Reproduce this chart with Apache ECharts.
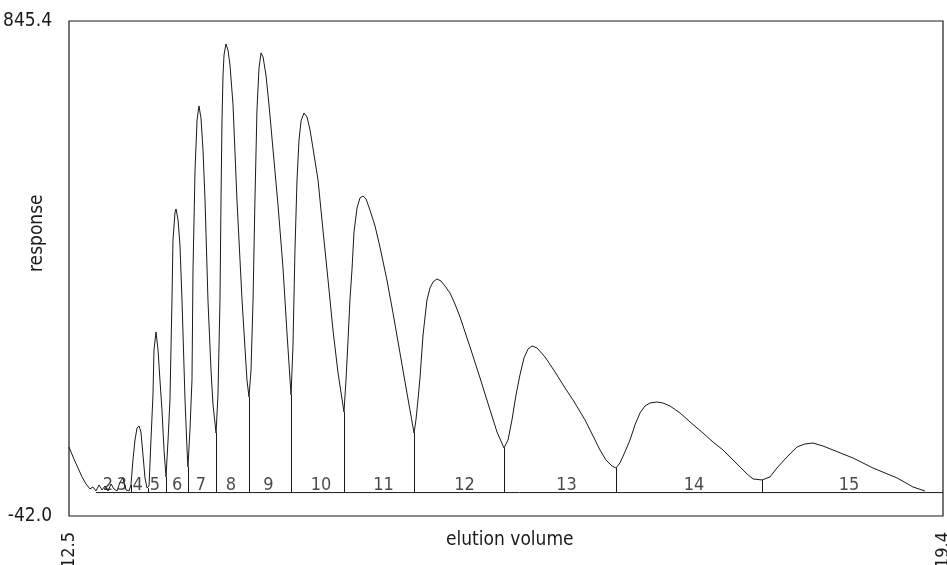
<!DOCTYPE html>
<html>
<head>
<meta charset="utf-8">
<script src="https://cdn.jsdelivr.net/npm/echarts@6/dist/echarts.min.js"></script>
<style>
  html, body { margin: 0; padding: 0; background: #fff; }
  #chart { width: 947px; height: 565px; }
</style>
</head>
<body>
<div id="chart"></div>
<script>
// Elution trace: volume (x) and detector response (y)
const volume = [
  12.500,12.516,12.539,12.571,12.603,12.634,12.666,12.689,12.713,12.737,12.761,12.784,12.808,12.832,12.855,12.879,12.903,12.926,12.950,12.974,12.989,
  13.005,13.021,13.037,13.053,13.068,13.084,13.100,13.116,13.132,
  13.147,13.163,13.171,13.187,13.203,13.218,13.234,13.250,13.266,
  13.282,13.297,13.313,13.321,13.337,13.345,13.361,13.376,13.392,13.416,13.432,13.439,
  13.455,13.471,13.479,13.495,13.511,13.526,13.542,13.558,13.574,13.597,13.621,13.637,13.661,
  13.676,13.692,13.700,13.708,13.716,13.724,13.739,13.755,13.771,13.795,13.826,13.866,13.905,13.921,
  13.937,13.953,13.968,13.984,14.000,14.016,14.032,14.055,14.079,14.111,14.150,14.189,14.221,14.253,
  14.268,14.284,14.300,14.316,14.332,14.355,14.379,14.403,14.426,14.466,14.505,14.545,14.584,14.624,14.671,
  14.687,14.703,14.718,14.734,14.750,14.774,14.797,14.821,14.845,14.876,14.916,14.955,15.010,15.058,15.113,15.168,15.224,
  15.239,15.255,15.271,15.295,15.326,15.350,15.374,15.405,15.437,15.468,15.508,15.547,15.587,15.666,15.745,15.824,15.879,15.934,
  15.966,15.997,16.029,16.060,16.092,16.124,16.155,16.195,16.258,16.337,16.416,16.479,16.574,16.653,16.692,16.739,16.787,16.818,
  16.850,16.889,16.929,16.968,17.008,17.047,17.087,17.142,17.189,17.245,17.324,17.403,17.505,17.584,17.663,17.742,17.797,17.853,17.900,17.971,
  18.034,18.089,18.168,18.247,18.310,18.373,18.452,18.531,18.689,18.847,19.037,19.163,19.258
];
const response = [
  81.7,72.8,60.2,44.1,28.0,15.4,6.5,10.0,2.9,13.6,4.7,11.8,2.9,15.4,6.5,2.9,19.0,26.2,4.7,2.9,13.6,
  58.4,94.3,115.8,119.4,108.6,67.4,26.2,8.2,11.8,
  94.3,175.0,255.6,287.9,255.6,201.9,148.1,76.4,28.0,
  94.3,166.0,345.3,452.8,503.0,508.4,488.7,443.9,345.3,166.0,76.4,45.9,
  112.2,201.9,399.1,578.3,668.0,693.1,671.5,614.2,524.5,345.3,219.8,157.0,106.8,
  175.0,345.3,524.5,668.0,748.6,784.5,804.2,793.5,766.6,694.9,524.5,345.3,201.9,171.4,
  219.8,345.3,524.5,685.9,761.2,788.1,780.9,748.6,694.9,614.2,515.6,404.4,286.1,175.0,
  261.0,434.9,560.4,632.1,666.2,680.5,673.3,650.0,617.8,560.4,470.8,381.1,291.5,214.4,144.5,
  201.9,273.6,345.3,399.1,467.2,510.2,528.1,531.7,526.3,506.6,477.9,440.3,381.1,322.0,250.3,178.6,106.8,
  130.2,166.0,205.4,282.5,345.3,366.8,377.5,382.9,379.3,370.4,357.8,338.1,314.8,261.0,205.4,148.1,108.6,80.0,
  94.3,130.2,175.0,210.8,241.3,257.4,262.8,259.2,243.1,216.2,187.5,166.0,130.2,94.3,76.4,58.4,47.7,44.1,
  53.1,72.8,94.3,121.2,142.7,155.2,160.6,162.4,160.6,155.2,142.7,126.6,106.8,90.7,76.4,58.4,45.9,33.3,24.4,22.6,
  28.0,44.1,63.8,81.7,87.1,88.9,83.5,76.4,62.0,44.1,26.2,10.0,2.9
];

// Fraction cut points (drop lines from the valley to the baseline)
const cutVolume   = [12.989,13.124,13.266,13.439,13.661,13.921,14.253,14.671,15.224,15.934,16.818,17.971];
const cutResponse = [13.6,8.0,28.0,45.9,106.8,171.4,175.0,144.5,106.8,80.0,44.1,22.6];

// Fraction numbers written along the baseline
const fractionNames  = ['2','3','4','5','6','7','8','9','10','11','12','13','14','15'];
const fractionVolume = [12.808,12.918,13.041,13.179,13.353,13.542,13.779,14.075,14.489,14.983,15.622,16.428,17.434,18.658];

// Baseline drawn under the fractions
const baselineVolume = [12.713, 19.4];
const baselineResponse = [0, 0];

// Axis range labels
const xTickLabels = [12.5, 19.4];
const yTickLabels = [-42.0, 845.4];

const FONT = '"Liberation Sans Narrow", "DejaVu Sans Condensed", "Liberation Sans", sans-serif';
const INK = '#1a1a1a';

const trace = volume.map((v, i) => [v, response[i]]);
const baseline = baselineVolume.map((v, i) => [v, baselineResponse[i]]);
const cuts = cutVolume.map((v, i) => [{ coord: [v, cutResponse[i]] }, { coord: [v, 0] }]);
const fractions = fractionNames.map((n, i) => ({ name: n, value: [fractionVolume[i], 0] }));

const chart = echarts.init(document.getElementById('chart'), null, { renderer: 'canvas' });

chart.setOption({
  animation: false,
  backgroundColor: '#fff',
  grid: {
    left: 69, right: 4, top: 21, bottom: 49,
    outerBoundsMode: 'none',
    containLabel: false,
    show: true, borderColor: INK, borderWidth: 1.2, backgroundColor: 'transparent'
  },
  xAxis: {
    type: 'value',
    min: xTickLabels[0], max: xTickLabels[1],
    axisLine: { show: false },
    axisTick: { show: false },
    splitLine: { show: false },
    axisLabel: {
      customValues: xTickLabels,
      rotate: 90,
      margin: 16,
      color: INK,
      fontFamily: FONT,
      fontSize: 18,
      hideOverlap: false,
      formatter: v => v.toFixed(1)
    }
  },
  yAxis: {
    type: 'value',
    min: yTickLabels[0], max: yTickLabels[1],
    axisLine: { show: false },
    axisTick: { show: false },
    splitLine: { show: false },
    axisLabel: {
      customValues: yTickLabels,
      margin: 17,
      color: INK,
      fontFamily: FONT,
      fontSize: 19,
      verticalAlign: 'middle',
      hideOverlap: false,
      formatter: v => v.toFixed(1)
    }
  },
  graphic: [
    {
      type: 'text', left: 446, top: 531,
      style: { text: 'elution volume', fill: INK, font: '19px ' + FONT }
    },
    {
      type: 'text', x: 28, y: 272, rotation: Math.PI / 2,
      style: { text: 'response', fill: INK, font: '19px ' + FONT }
    }
  ],
  series: [
    {
      name: 'baseline',
      type: 'line',
      data: baseline,
      showSymbol: false,
      silent: true,
      lineStyle: { color: INK, width: 1 },
      markLine: {
        silent: true,
        symbol: 'none',
        label: { show: false },
        lineStyle: { color: INK, width: 1, type: 'solid' },
        data: cuts
      }
    },
    {
      name: 'response',
      type: 'line',
      data: trace,
      showSymbol: false,
      silent: true,
      lineStyle: { color: INK, width: 1 }
    },
    {
      name: 'fractions',
      type: 'scatter',
      data: fractions,
      symbolSize: 1,
      itemStyle: { color: 'transparent' },
      silent: true,
      label: {
        show: true,
        position: 'top',
        distance: -2,
        formatter: p => p.name,
        color: INK,
        fontFamily: FONT,
        fontSize: 18
      }
    }
  ]
});
</script>
</body>
</html>
